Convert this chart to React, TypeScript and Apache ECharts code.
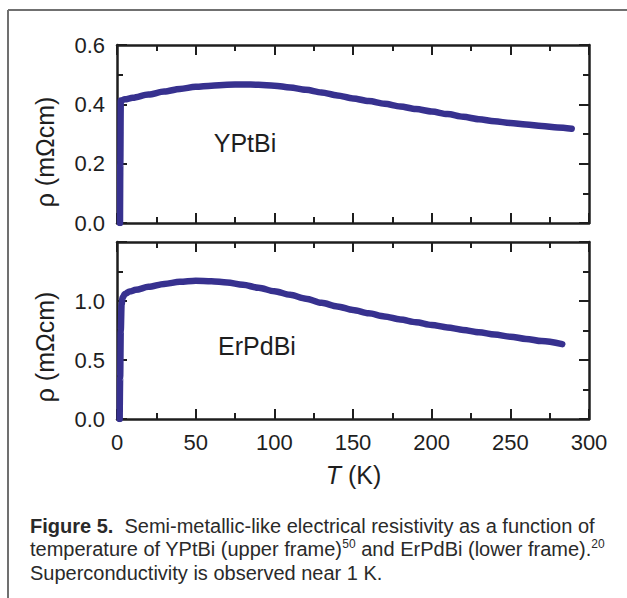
import React, { useEffect, useRef } from "react";
import * as echarts from "echarts";

// ---- Data ----
const yptbiT = [1.9, 2.1, 2.4, 5, 10, 20, 30, 40, 50, 60, 70, 80, 90, 100, 110, 120, 130, 140, 150, 160, 170, 180, 190, 200, 210, 220, 230, 240, 250, 260, 270, 280, 289];
const yptbiRho = [0, 0.2, 0.413, 0.417, 0.422, 0.433, 0.443, 0.452, 0.459, 0.463, 0.466, 0.467, 0.466, 0.463, 0.457, 0.449, 0.44, 0.43, 0.42, 0.411, 0.402, 0.393, 0.384, 0.376, 0.367, 0.358, 0.35, 0.343, 0.337, 0.332, 0.327, 0.322, 0.318];

const erpdbiT = [1.7, 2.0, 2.4, 2.9, 3.6, 5, 8, 12, 20, 30, 40, 50, 60, 70, 80, 90, 100, 110, 120, 130, 140, 150, 160, 170, 180, 190, 200, 210, 220, 230, 240, 250, 260, 270, 283];
const erpdbiRho = [0, 0.35, 0.75, 0.97, 1.03, 1.06, 1.08, 1.095, 1.12, 1.145, 1.163, 1.172, 1.168, 1.157, 1.138, 1.112, 1.083, 1.052, 1.02, 0.985, 0.954, 0.924, 0.896, 0.869, 0.843, 0.82, 0.797, 0.776, 0.755, 0.735, 0.716, 0.698, 0.679, 0.66, 0.634];

const xRange = [0, 300];
const xStep = 50;
const topYRange = [0, 0.6];
const topYStep = 0.2;
const botYRange = [0, 1.5];
const botYStep = 0.5;
const botYHiddenLabels = [1.5];

const topLabel = "YPtBi";
const botLabel = "ErPdBi";
const yAxisTitle = "ρ (mΩcm)";
const captionLines = [
  "{b|Figure 5.}  Semi-metallic-like electrical resistivity as a function of",
  "temperature of YPtBi (upper frame){sup|50} and ErPdBi (lower frame).{sup|20}",
  "Superconductivity is observed near 1 K.",
];

const FONT = "'Liberation Sans', Arial, Helvetica, sans-serif";
const INK = "#1e1e1e";
const LINE_COLOR = "#37318f";
const CAP_SIZE = 20;

function xAxisDef(gridIndex: number, position: string, showLabel: boolean) {
  return {
    type: "value",
    gridIndex,
    position,
    min: xRange[0],
    max: xRange[1],
    interval: xStep,
    axisLine: { show: true, onZero: false, lineStyle: { color: INK, width: 2.5 } },
    axisTick: { show: true, inside: true, length: 10, lineStyle: { color: INK, width: 2 } },
    minorTick: { show: true, splitNumber: 2, length: 6, lineStyle: { color: INK, width: 2 } },
    splitLine: { show: false },
    minorSplitLine: { show: false },
    axisLabel: { show: showLabel, fontSize: 22, color: INK, margin: 12, fontFamily: FONT },
  };
}

function yAxisDef(gridIndex: number, position: string, showLabel: boolean, range: number[], step: number, hidden: number[]) {
  return {
    type: "value",
    gridIndex,
    position,
    min: range[0],
    max: range[1],
    interval: step,
    axisLine: { show: true, onZero: false, lineStyle: { color: INK, width: 2.5 } },
    axisTick: { show: true, inside: true, length: 10, lineStyle: { color: INK, width: 2 } },
    minorTick: { show: true, splitNumber: 2, length: 6, lineStyle: { color: INK, width: 2 } },
    splitLine: { show: false },
    minorSplitLine: { show: false },
    axisLabel: {
      show: showLabel,
      fontSize: 22,
      color: INK,
      margin: 12,
      fontFamily: FONT,
      formatter: (v: number) => (hidden.some((h) => Math.abs(h - v) < 1e-9) ? "" : v.toFixed(1)),
    },
  };
}

export default function App() {
  const ref = useRef<HTMLDivElement>(null);
  useEffect(() => {
    if (!ref.current) return;
    const chart = echarts.init(ref.current, undefined, { renderer: "svg" });
    const topData = yptbiT.map((t, i) => [t, yptbiRho[i]]);
    const botData = erpdbiT.map((t, i) => [t, erpdbiRho[i]]);
    const seriesStyle = {
      type: "line",
      showSymbol: false,
      symbol: "none",
      smooth: 0.3,
      smoothMonotone: "x",
      lineStyle: { color: LINE_COLOR, width: 6.5, cap: "round", join: "round" },
      z: 1,
    };
    chart.setOption({
      animation: false,
      backgroundColor: "#ffffff",
      grid: [
        { left: 117, top: 45, width: 472, height: 178 },
        { left: 117, top: 242, width: 472, height: 177 },
      ],
      xAxis: [
        xAxisDef(0, "bottom", false),
        xAxisDef(0, "top", false),
        xAxisDef(1, "bottom", true),
        xAxisDef(1, "top", false),
      ],
      yAxis: [
        yAxisDef(0, "left", true, topYRange, topYStep, []),
        yAxisDef(0, "right", false, topYRange, topYStep, []),
        yAxisDef(1, "left", true, botYRange, botYStep, botYHiddenLabels),
        yAxisDef(1, "right", false, botYRange, botYStep, botYHiddenLabels),
      ],
      series: [
        { ...seriesStyle, name: topLabel, xAxisIndex: 0, yAxisIndex: 0, data: topData },
        { ...seriesStyle, name: botLabel, xAxisIndex: 2, yAxisIndex: 2, data: botData },
      ],
      graphic: [
        { type: "line", shape: { x1: 8, y1: 10, x2: 627, y2: 10 }, style: { stroke: "#707070", lineWidth: 2 } },
        { type: "line", shape: { x1: 8, y1: 10, x2: 8, y2: 598 }, style: { stroke: "#707070", lineWidth: 2 } },
        {
          type: "text", x: 245, y: 143,
          style: { text: topLabel, fontSize: 25, fontFamily: FONT, fill: INK, align: "center", verticalAlign: "middle" },
        },
        {
          type: "text", x: 257, y: 346,
          style: { text: botLabel, fontSize: 25, fontFamily: FONT, fill: INK, align: "center", verticalAlign: "middle" },
        },
        {
          type: "text", x: 45, y: 152, rotation: Math.PI / 2,
          style: { text: yAxisTitle, fontSize: 25, fontFamily: FONT, fill: INK, align: "center", verticalAlign: "middle" },
        },
        {
          type: "text", x: 45, y: 347, rotation: Math.PI / 2,
          style: { text: yAxisTitle, fontSize: 25, fontFamily: FONT, fill: INK, align: "center", verticalAlign: "middle" },
        },
        {
          type: "text", x: 353.5, y: 475,
          style: {
            text: "{it|T} (K)", fontSize: 25, fontFamily: FONT, fill: INK, align: "center", verticalAlign: "middle",
            rich: { it: { fontStyle: "italic", fontSize: 25, fontFamily: FONT, fill: INK } },
          },
        },
        ...captionLines.map((line, i) => ({
          type: "text",
          x: 30,
          y: 525.5 + i * 23.5,
          style: {
            text: line,
            fontSize: CAP_SIZE,
            fontFamily: FONT,
            fill: "#2a2a2a",
            align: "left",
            verticalAlign: "middle",
            rich: {
              b: { fontWeight: "bold", fontSize: CAP_SIZE, fontFamily: FONT, fill: "#2a2a2a" },
              sup: { fontSize: 12, fontFamily: FONT, fill: "#2a2a2a", verticalAlign: "top", lineHeight: 22 },
            },
          },
        })),
      ],
    });
    return () => chart.dispose();
  }, []);
  return (
    <div
      ref={ref}
      style={{ position: "fixed", left: 0, top: 0, width: 627, height: 598, background: "#fff" }}
    />
  );
}
